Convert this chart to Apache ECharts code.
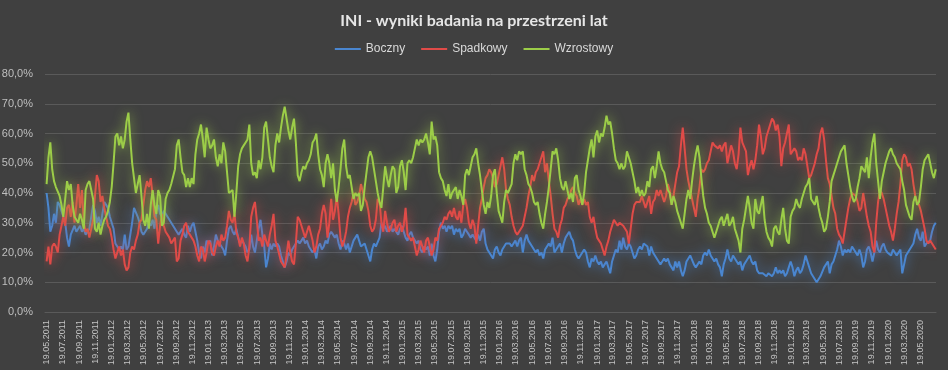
<!DOCTYPE html>
<html><head><meta charset="utf-8">
<script src="https://cdn.jsdelivr.net/npm/echarts@6/dist/echarts.min.js"></script>
<style>html,body{margin:0;padding:0;background:#404040;}#c{width:948px;height:370px;}</style>
</head><body><div id="c"></div>
<script>
// weekly survey, first reading 19.05.2011
const startYMD = [2011, 5, 19];
const seriesNames = ['Boczny', 'Spadkowy', 'Wzrostowy'];

const boczny = [
40,35,27,29,33,30,37,36,34,32, 30,25,22,26,26,29,27,28,29,27,
28,26,27,28,32,36,34,30,32,29, 33,37,36,35,32,30,28,23,22,21,
22,21,26,21,22,26,30,35,35,32, 30,27,26,27,28,30,29,31,28,34,
36,33,32,34,33,32,31,30,29,28, 27,26,27,28,26,25,29,27,29,30,
27,24,20,18,22,20,24,23,24,19, 22,26,24,23,22,21,19,24,28,29,
27,26,28,25,23,24,23,22,20,21, 26,22,20,24,28,31,26,22,15,18,
23,21,23,22,23,22,19,19,15,17, 20,19,21,22,23,24,23,24,25,23,
24,22,21,20,21,18,22,23,21,22, 24,23,26,27,26,25,26,23,21,24,
23,21,23,20,22,24,25,26,24,22, 22,23,21,19,17,21,23,22,22,25,
30,28,29,27,28,29,27,28,27,26, 28,29,27,25,24,26,27,25,24,23,
24,21,20,22,21,22,19,23,19,17, 21,27,30,28,29,27,29,28,29,26,
28,27,28,25,26,28,27,26,25,26, 25,24,26,24,27,28,23,21,21,19,
18,21,22,20,19,21,22,23,23,23, 22,23,24,22,24,25,20,24,26,24,
24,22,21,20,21,19,20,18,21,22, 23,22,25,20,21,22,23,20,23,25,
26,27,25,24,21,19,18,19,20,21, 20,17,15,18,17,19,17,16,17,15,
16,17,15,13,17,19,21,20,24,21, 25,22,21,23,22,20,18,19,21,22,
21,23,23,22,19,22,20,19,18,17, 16,17,18,17,18,16,15,14,17,15,
17,14,12,14,17,18,19,19,16,15, 16,17,16,19,20,19,21,19,19,17,
18,16,15,12,16,18,21,18,17,19, 18,17,16,17,14,16,17,18,19,17,
16,17,14,13,13,13,13,12,13,13, 12,13,15,13,14,13,14,12,13,15,
17,15,12,14,15,13,14,16,19,19, 15,13,12,11,10,11,12,12,15,15,
17,13,16,17,19,21,24,22,19,21, 20,21,20,22,22,20,19,21,19,15,
17,21,22,20,17,20,24,21,20,22, 23,21,20,20,19,21,20,19,20,21,
13,16,19,19,21,21,23,26,28,25, 24,27,22,23,23,24,27,29,30
];

const spadkowy = [
17,22,16,22,23,22,20,26,29,32, 29,35,36,32,37,30,36,43,35,41,
30,27,28,25,25,31,39,46,44,37, 39,35,32,29,28,25,21,18,20,22,
19,21,16,14,15,20,22,21,24,26, 30,31,36,41,44,42,45,39,32,31,
23,29,33,29,27,26,25,23,24,25, 17,18,24,26,29,30,27,26,25,24,
22,19,17,22,21,17,20,24,23,20, 19,22,24,22,26,24,25,29,34,31,
30,33,27,25,22,25,23,19,17,22, 32,35,37,31,24,25,22,26,24,22,
26,29,33,24,22,22,17,17,15,19, 24,20,17,16,23,32,31,29,27,25,
27,29,29,24,20,22,26,28,33,36, 33,25,30,38,31,34,39,33,25,22,
24,27,32,35,37,40,36,37,39,43, 43,38,37,34,29,27,28,31,38,37,
30,27,34,30,27,28,30,31,27,29, 30,27,29,35,26,25,24,25,22,19,
21,24,22,20,24,25,22,19,21,25, 24,28,29,30,32,31,33,34,32,35,
32,31,34,30,36,38,35,30,28,31, 29,23,29,35,38,42,45,46,48,47,
45,42,43,46,49,52,48,41,38,36, 32,29,27,26,27,28,29,32,35,39,
42,46,44,47,48,50,52,54,47,50, 44,39,33,28,27,25,29,31,35,36,
38,39,41,42,40,39,36,38,36,38, 36,37,32,30,32,28,25,24,23,21,
19,22,24,27,29,31,30,29,30,30, 29,28,27,23,28,33,36,37,37,37,
39,37,35,37,39,33,37,38,41,39, 41,39,37,39,43,41,36,39,43,47,
49,56,62,55,48,44,41,38,35,32, 38,42,48,47,48,50,51,54,57,56,
56,55,56,54,56,57,50,50,56,54, 50,48,53,62,57,57,54,46,49,51,
48,51,56,63,59,53,55,59,61,61, 65,64,61,63,59,49,55,57,60,63,
53,53,55,54,51,52,51,55,53,49, 45,46,48,50,53,55,60,62,58,51,
45,43,39,35,33,28,26,25,23,27, 31,35,38,40,40,39,37,34,35,40,
36,32,29,27,22,20,30,37,41,40, 38,35,32,29,27,24,28,33,37,43,
51,53,52,49,50,48,43,39,37,36, 34,31,28,24,23,24,23,22,21
];

const wzrostowy = [
43,52,57,48,44,42,42,39,36,32, 38,44,41,43,36,32,31,30,33,31,
28,41,43,44,44,38,28,27,30,26, 29,31,32,34,37,42,50,59,60,56,
59,55,58,64,67,58,50,45,40,43, 46,39,31,29,33,28,36,41,36,33,
41,39,29,30,38,40,41,43,43,48, 56,58,52,47,46,42,45,42,45,43,
53,58,60,63,58,52,62,58,55,56, 58,52,49,53,50,57,54,47,40,40,
41,32,40,49,53,55,56,57,58,63, 50,46,47,45,51,48,52,62,64,58,
52,49,47,56,60,57,62,66,69,65, 61,58,62,65,57,46,44,47,49,48,
50,51,53,57,58,60,53,48,46,42, 50,53,50,45,50,41,37,42,48,55,
58,49,45,46,42,38,40,39,40,34, 36,42,47,52,54,52,48,44,40,37,
35,42,49,45,42,46,49,48,40,42, 49,51,47,41,50,51,50,52,55,58,
56,58,57,58,60,57,53,64,58,59, 56,47,45,44,41,39,43,38,40,41,
42,38,41,39,36,46,48,46,49,52, 53,55,50,46,41,36,33,37,35,39,
46,48,40,34,32,30,37,41,40,40, 43,50,53,51,54,53,54,48,46,43,
42,40,37,36,37,33,30,28,33,37, 42,48,54,53,55,51,45,42,41,44,
41,38,40,37,45,46,41,39,36,40, 47,51,55,58,52,59,61,57,60,59,
62,66,63,64,60,55,51,50,48,50, 48,49,54,52,50,47,44,40,42,39,
41,39,40,44,42,48,49,45,49,54, 50,48,47,44,41,40,36,39,37,34,
32,30,28,33,38,41,38,44,49,53, 56,52,45,39,35,33,30,29,27,25,
27,29,31,32,29,31,33,29,30,32, 28,26,24,20,28,31,35,39,35,30,
28,38,34,33,36,39,31,27,25,24, 22,28,29,27,26,31,35,28,24,23,
32,34,35,38,36,35,38,40,42,43, 45,38,37,36,39,35,32,30,27,28,
32,37,44,46,48,50,52,54,55,56, 50,46,42,39,37,38,42,45,49,48,
47,52,45,52,57,60,50,44,38,44, 47,50,52,54,55,53,52,50,49,48,
44,41,36,34,32,31,37,39,36,37, 42,48,51,52,53,50,47,45,48
];

const yTicks = [0, 10, 20, 30, 40, 50, 60, 70, 80];
const xTickLabels = [
'19.05.2011','19.07.2011','19.09.2011','19.11.2011',
'19.01.2012','19.03.2012','19.05.2012','19.07.2012','19.09.2012','19.11.2012',
'19.01.2013','19.03.2013','19.05.2013','19.07.2013','19.09.2013','19.11.2013',
'19.01.2014','19.03.2014','19.05.2014','19.07.2014','19.09.2014','19.11.2014',
'19.01.2015','19.03.2015','19.05.2015','19.07.2015','19.09.2015','19.11.2015',
'19.01.2016','19.03.2016','19.05.2016','19.07.2016','19.09.2016','19.11.2016',
'19.01.2017','19.03.2017','19.05.2017','19.07.2017','19.09.2017','19.11.2017',
'19.01.2018','19.03.2018','19.05.2018','19.07.2018','19.09.2018','19.11.2018',
'19.01.2019','19.03.2019','19.05.2019','19.07.2019','19.09.2019','19.11.2019',
'19.01.2020','19.03.2020','19.05.2020'
];

const colors = ['#4a86d0', '#e04b48', '#9ccd48'];
const glows = ['rgba(74,134,208,0.8)', 'rgba(224,75,72,0.8)', 'rgba(156,205,72,0.8)'];

const DAY = 86400000;
const T0 = Date.UTC(startYMD[0], startYMD[1] - 1, startYMD[2]);
// x position = days since first reading
function labelDay(s) {
  const p = s.split('.');
  return Math.round((Date.UTC(+p[2], +p[1] - 1, +p[0]) - T0) / DAY);
}
const labelDays = xTickLabels.map(labelDay);
const labelByDay = {};
xTickLabels.forEach(function (s, i) { labelByDay[labelDays[i]] = s; });

const allSeries = [boczny, spadkowy, wzrostowy];
const nWeeks = boczny.length;

const chart = echarts.init(document.getElementById('c'), null, {renderer: 'canvas'});
chart.setOption({
  backgroundColor: '#404040',
  animation: false,
  title: {
    text: 'INI - wyniki badania na przestrzeni lat',
    left: 'center', top: 8,
    textStyle: {color: '#e6e6e6', fontSize: 16, fontWeight: 'bold', fontFamily: 'Lato, "Liberation Sans", sans-serif'}
  },
  legend: {
    top: 38, left: 'center',
    icon: 'rect', itemWidth: 26, itemHeight: 2, itemGap: 16,
    data: seriesNames,
    textStyle: {color: '#d9d9d9', fontSize: 12, fontFamily: '"Liberation Sans", sans-serif'}
  },
  grid: {left: 45, right: 12, top: 74, bottom: 58, containLabel: false, outerBoundsMode: 'none'},
  xAxis: {
    type: 'value',
    min: -6,
    max: 7 * (nWeeks - 1) + 1,
    axisLine: {show: true, lineStyle: {color: '#5a5a5a'}},
    axisTick: {show: false},
    splitLine: {show: false},
    axisLabel: {
      customValues: labelDays,
      formatter: function (v) { return labelByDay[Math.round(v)] || ''; },
      rotate: 90, fontSize: 9, color: '#c4c4c4', margin: 8,
      fontFamily: '"Liberation Sans", sans-serif', hideOverlap: false,
      showMinLabel: true, showMaxLabel: true
    }
  },
  yAxis: {
    type: 'value', min: yTicks[0], max: yTicks[yTicks.length - 1], interval: 10,
    axisLine: {show: false}, axisTick: {show: false},
    splitLine: {lineStyle: {color: '#5a5a5a', width: 1}},
    axisLabel: {
      formatter: function (v) { return v.toFixed(1).replace('.', ',') + '%'; },
      color: '#bfbfbf', fontSize: 11, margin: 12, fontFamily: '"Liberation Sans", sans-serif'
    }
  },
  series: seriesNames.map(function (name, k) {
    return {
      name: name, type: 'line', showSymbol: false, symbol: 'none',
      data: allSeries[k].map(function (v, i) { return [7 * i, v]; }),
      lineStyle: {width: 2, color: colors[k], shadowBlur: 12, shadowColor: glows[k]},
      itemStyle: {color: colors[k]},
      emphasis: {disabled: true}
    };
  })
});
</script></body></html>
